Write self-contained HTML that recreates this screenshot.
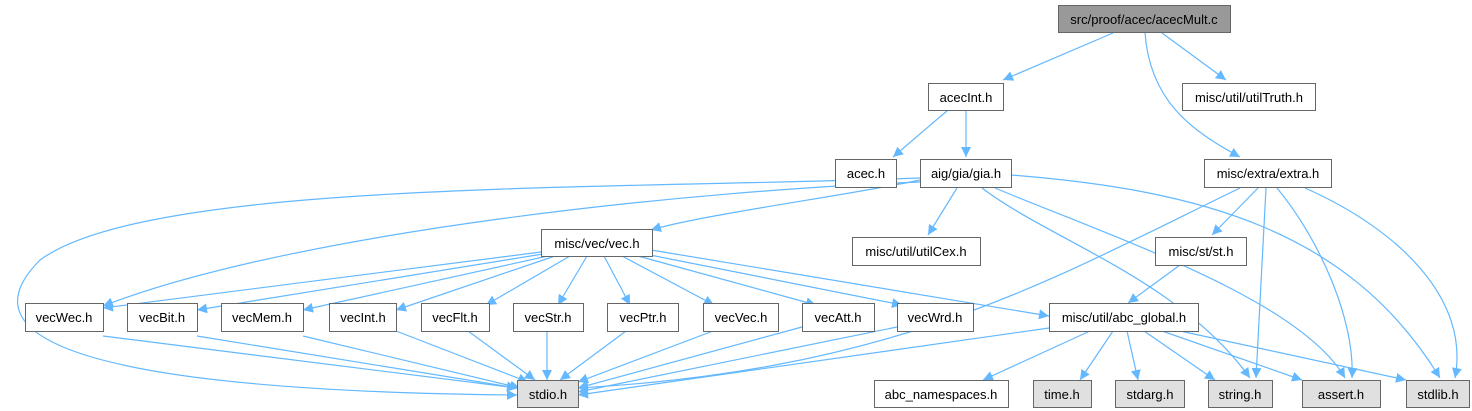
<!DOCTYPE html>
<html><head><meta charset="utf-8"><style>
html,body{margin:0;padding:0;background:#fff;}
svg{display:block;}
text{font-family:"Liberation Sans",Arial,sans-serif;font-size:13px;fill:#000;}
</style></head><body>
<svg width="1472" height="411" viewBox="0 0 1472 411" xmlns="http://www.w3.org/2000/svg">
<defs><marker id="a" viewBox="0 0 10 10" refX="10" refY="5" markerWidth="10" markerHeight="10" markerUnits="userSpaceOnUse" orient="auto"><path d="M0,0 L10,5 L0,10 z" fill="#63b8ff"/></marker></defs>
<g fill="none" stroke="#63b8ff" stroke-width="1.2" marker-end="url(#a)">
<path d="M1113,33 L1003,80"/>
<path d="M1162,33 L1226,80"/>
<path d="M1145,33 C1150,100 1190,130 1240,157"/>
<path d="M948,110 L893,157"/>
<path d="M966,110 L966,157"/>
<path d="M957,188 L928,235"/>
<path d="M920,180 C850,195 700,215 651,230"/>
<path d="M920,182 C700,190 300,230 103,306"/>
<path d="M920,178 C600,190 150,180 40,260 C-20,320 10,390 517,395"/>
<path d="M982,188 C1050,240 1180,280 1250,378"/>
<path d="M995,188 C1120,240 1300,300 1345,378"/>
<path d="M1011,175 C1200,190 1350,230 1440,378"/>
<path d="M1240,188 C1050,280 900,370 578,388"/>
<path d="M1258,188 L1212,235"/>
<path d="M1266,188 L1256,378"/>
<path d="M1277,188 C1320,240 1355,320 1352,378"/>
<path d="M1305,188 C1400,230 1470,300 1455,378"/>
<path d="M1180,265 L1128,303"/>
<path d="M541,252 L103,308"/>
<path d="M543,254 L197,310"/>
<path d="M548,256 L303,310"/>
<path d="M555,256 L396,310"/>
<path d="M570,256 L486,305"/>
<path d="M587,256 L558,305"/>
<path d="M604,256 L630,305"/>
<path d="M622,256 L714,305"/>
<path d="M638,256 L816,305"/>
<path d="M645,254 L902,305"/>
<path d="M651,250 L1049,316"/>
<path d="M103,336 L517,388"/>
<path d="M197,336 L517,388"/>
<path d="M303,336 L520,388"/>
<path d="M396,331 L528,382"/>
<path d="M468,331 L535,380"/>
<path d="M547,331 L547,380"/>
<path d="M626,331 L560,380"/>
<path d="M713,331 L578,382"/>
<path d="M802,327 L578,388"/>
<path d="M897,327 L578,392"/>
<path d="M1049,328 L578,395"/>
<path d="M1090,331 L983,380"/>
<path d="M1113,331 L1080,380"/>
<path d="M1127,331 L1138,380"/>
<path d="M1144,331 L1215,380"/>
<path d="M1162,331 L1302,380"/>
<path d="M1180,331 L1406,380"/>
</g>
<g stroke="#666" stroke-width="1">
<rect x="1058.5" y="5.5" width="172" height="27" fill="#999"/>
<rect x="928.5" y="83.5" width="75" height="27" fill="#fff"/>
<rect x="1182.5" y="83.5" width="133" height="27" fill="#fff"/>
<rect x="835.5" y="159.5" width="61" height="28" fill="#fff"/>
<rect x="920.5" y="159.5" width="91" height="28" fill="#fff"/>
<rect x="1204.5" y="159.5" width="127" height="28" fill="#fff"/>
<rect x="852.5" y="237.5" width="128" height="28" fill="#fff"/>
<rect x="1155.5" y="237.5" width="91" height="28" fill="#fff"/>
<rect x="541.5" y="229.5" width="111" height="27" fill="#fff"/>
<rect x="25.5" y="303.5" width="78" height="28" fill="#fff"/>
<rect x="127.5" y="303.5" width="70" height="28" fill="#fff"/>
<rect x="221.5" y="303.5" width="82" height="28" fill="#fff"/>
<rect x="329.5" y="303.5" width="67" height="28" fill="#fff"/>
<rect x="421.5" y="303.5" width="68" height="28" fill="#fff"/>
<rect x="513.5" y="303.5" width="70" height="28" fill="#fff"/>
<rect x="607.5" y="303.5" width="71" height="28" fill="#fff"/>
<rect x="703.5" y="303.5" width="75" height="28" fill="#fff"/>
<rect x="802.5" y="303.5" width="72" height="28" fill="#fff"/>
<rect x="897.5" y="303.5" width="76" height="28" fill="#fff"/>
<rect x="1049.5" y="303.5" width="149" height="28" fill="#fff"/>
<rect x="517.5" y="380.5" width="61" height="27" fill="#e0e0e0"/>
<rect x="874.5" y="380.5" width="134" height="27" fill="#fff"/>
<rect x="1033.5" y="380.5" width="58" height="27" fill="#e0e0e0"/>
<rect x="1115.5" y="380.5" width="69" height="27" fill="#e0e0e0"/>
<rect x="1208.5" y="380.5" width="64" height="27" fill="#e0e0e0"/>
<rect x="1302.5" y="380.5" width="78" height="27" fill="#e0e0e0"/>
<rect x="1406.5" y="380.5" width="63" height="27" fill="#e0e0e0"/>
</g>
<g text-anchor="middle">
<text x="1144" y="24">src/proof/acec/acecMult.c</text>
<text x="966" y="102">acecInt.h</text>
<text x="1249" y="102">misc/util/utilTruth.h</text>
<text x="866" y="178">acec.h</text>
<text x="966" y="178">aig/gia/gia.h</text>
<text x="1268" y="178">misc/extra/extra.h</text>
<text x="916" y="256">misc/util/utilCex.h</text>
<text x="1201" y="256">misc/st/st.h</text>
<text x="597" y="248">misc/vec/vec.h</text>
<text x="64" y="322">vecWec.h</text>
<text x="162" y="322">vecBit.h</text>
<text x="262" y="322">vecMem.h</text>
<text x="363" y="322">vecInt.h</text>
<text x="455" y="322">vecFlt.h</text>
<text x="548" y="322">vecStr.h</text>
<text x="643" y="322">vecPtr.h</text>
<text x="741" y="322">vecVec.h</text>
<text x="838" y="322">vecAtt.h</text>
<text x="935" y="322">vecWrd.h</text>
<text x="1124" y="322">misc/util/abc_global.h</text>
<text x="548" y="399">stdio.h</text>
<text x="941" y="399">abc_namespaces.h</text>
<text x="1062" y="399">time.h</text>
<text x="1150" y="399">stdarg.h</text>
<text x="1240" y="399">string.h</text>
<text x="1341" y="399">assert.h</text>
<text x="1438" y="399">stdlib.h</text>
</g>
</svg>
</body></html>
